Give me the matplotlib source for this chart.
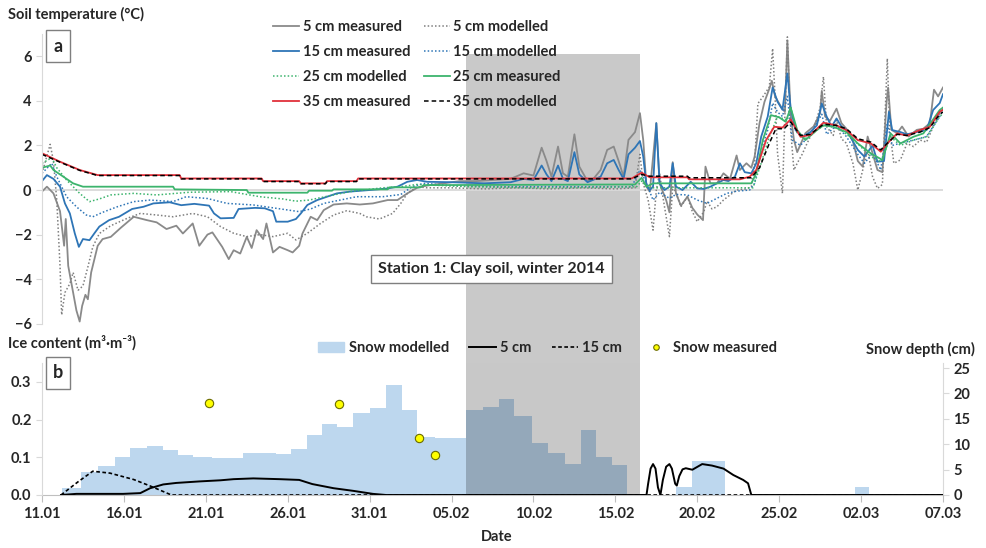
import matplotlib.pyplot as plt
from matplotlib.lines import Line2D
from matplotlib.patches import Patch
import numpy as np

plt.rcParams['font.family'] = ['Lato', 'DejaVu Sans']
plt.rcParams['font.weight'] = 'bold'
plt.rcParams['font.size'] = 10
plt.rcParams['text.color'] = '#262626'

# time axis: days since 11.01.2014
date_labels = ['11.01', '16.01', '21.01', '26.01', '31.01', '05.02',
               '10.02', '15.02', '20.02', '25.02', '02.03', '07.03']
shade_period = (25.9, 36.5)   # grey highlighted period
shade_top = 6.1

# --- soil temperature (deg C) ---
d_5meas = [0.0, 0.3, 0.7, 1.1, 1.35, 1.45, 1.6, 1.9, 2.1, 2.3, 2.45, 2.65, 2.8, 3.0, 3.4, 3.7, 4.2,
           4.8, 5.6, 6.4, 7.0, 7.6, 8.2, 8.6, 9.2, 9.6, 10.1, 10.4, 11.0, 11.4, 11.7, 12.1, 12.5,
           12.8, 13.1, 13.5, 13.7, 14.1, 14.5, 15.0, 15.3, 15.7, 15.9, 16.4, 16.8, 17.2, 17.8,
           18.6, 19.4, 20.2, 21.1, 21.7, 22.3, 22.9, 23.5, 24.5, 25.5, 26.5, 27.5, 28.6, 29.4,
           30.0, 30.5, 30.8, 31.1, 31.5, 31.8, 32.1, 32.5, 32.8, 33.3, 33.6, 34.1, 34.5, 34.9,
           35.2, 35.5, 35.8, 36.2, 36.5, 36.7, 36.9, 37.1, 37.5, 37.7, 38.1, 38.3, 38.5, 38.7,
           39.0, 39.4, 39.7, 40.0, 40.35, 40.5, 40.8, 41.2, 41.6, 42.0, 42.4, 42.6, 43.0, 43.3,
           43.5, 43.8, 44.1, 44.4, 44.55, 44.75, 45.1, 45.35, 45.5, 45.7, 45.9, 46.1, 46.6, 47.1,
           47.5, 47.6, 47.8, 48.1, 48.5, 48.8, 49.1, 49.5, 49.8, 50.1, 50.4, 50.6, 51.0, 51.3,
           51.55, 51.65, 51.85, 52.2, 52.5, 52.9, 53.4, 53.8, 54.2, 54.45, 54.7, 55.0]
t_5meas = [-0.07, 0.15, -0.15, -0.95, -2.5, -1.3, -3.4, -4.6, -5.4, -5.9, -5.2, -4.7, -4.9, -3.7,
           -2.5, -2.2, -2.1, -1.7, -1.2, -1.35, -1.45, -1.75, -1.6, -1.95, -1.5, -2.5, -2.0, -1.9,
           -2.55, -3.1, -2.7, -2.85, -2.1, -2.6, -1.8, -2.2, -1.5, -2.8, -2.55, -2.7, -2.8, -2.5,
           -1.95, -1.2, -1.35, -0.9, -0.65, -0.6, -0.65, -0.6, -0.45, -0.45, -0.15, 0.1, 0.2, 0.3,
           0.4, 0.4, 0.45, 0.5, 0.75, 0.65, 1.9, 1.3, 0.6, 1.95, 0.75, 0.6, 2.5, 1.05, 0.4, 0.45,
           0.9, 1.8, 1.95, 1.3, 0.6, 2.25, 2.6, 3.45, 2.25, 0.15, -0.07, 3.0, 0.3, -0.45, -1.0,
           1.25, -0.15, -0.7, -0.3, -0.8, -1.1, -1.35, 1.05, 0.3, 0.3, 0.75, 0.5, 1.55, 0.9, 1.2,
           1.0, 1.5, 3.0, 3.95, 4.55, 4.9, 4.2, 3.75, 3.5, 6.7, 3.4, 2.25, 1.7, 2.55, 2.85, 3.45,
           4.45, 3.3, 3.1, 3.65, 3.0, 2.75, 2.2, 1.3, 1.05, 2.4, 1.9, 0.9, 0.8, 3.9, 4.6, 2.7,
           2.55, 2.85, 2.4, 2.7, 2.75, 3.0, 4.5, 4.2, 4.6]

d_5mod = [0.0, 0.5, 0.7, 0.9, 1.1, 1.2, 1.4, 1.7, 1.9, 2.2, 2.5, 2.8, 3.1, 3.5, 4.2, 5.2, 6.0, 7.0,
          8.0, 9.2, 10.1, 10.9, 11.7, 12.5, 13.3, 14.1, 15.0, 15.5, 16.2, 17.0, 17.8, 18.6, 19.4,
          19.8, 20.6, 21.4, 21.9, 22.3, 22.9, 23.5, 25.0, 27.0, 29.0, 31.0, 33.0, 35.0, 36.2,
          36.5, 36.7, 37.0, 37.3, 37.5, 37.7, 37.9, 38.3, 38.5, 38.7, 39.0, 39.4, 39.7, 40.0,
          40.4, 40.6, 40.9, 41.2, 41.6, 42.0, 42.4, 43.0, 43.3, 43.5, 43.7, 44.0, 44.4, 44.6,
          44.75, 44.9, 45.2, 45.5, 45.7, 45.9, 46.1, 46.4, 46.7, 47.1, 47.5, 47.7, 47.9, 48.3,
          48.5, 48.8, 49.1, 49.5, 49.8, 50.1, 50.4, 50.7, 51.0, 51.3, 51.6, 51.75, 52.0, 52.4,
          52.8, 53.2, 53.6, 54.0, 54.4, 55.0]
t_5mod = [0.75, 2.05, 1.3, -0.45, -3.4, -5.6, -4.6, -4.2, -3.7, -4.5, -4.3, -3.45, -2.55, -1.95,
          -1.6, -1.27, -1.05, -1.12, -1.2, -1.05, -1.2, -1.64, -1.94, -2.09, -2.0, -2.09, -1.94,
          -2.24, -1.94, -1.5, -1.12, -0.93, -1.05, -1.2, -1.3, -1.05, -0.6, -0.15, 0.15, 0.1, 0.1,
          0.05, 0.1, 0.05, 0.1, 0.05, 0.1, 1.6, 0.3, -0.45, -1.8, 0.0, 0.75, -0.3, -2.09, 0.15,
          -0.1, -0.75, -0.3, -0.97, -1.42, -0.97, -0.5, -0.85, -0.75, -0.45, -0.22, 0.0, 0.05,
          0.15, 1.2, 3.88, 4.18, 4.63, 6.35, 4.18, 1.64, -0.15, 6.87, 2.69, 0.9, 1.2, 1.6, 2.09,
          2.7, 3.7, 5.08, 2.84, 2.45, 3.14, 2.3, 2.1, 1.2, 0.0, 0.9, 1.8, 0.6, 0.07, 0.25, 5.9,
          2.69, 1.2, 1.35, 2.09, 1.95, 2.24, 2.15, 2.84, 3.7]

d_15meas = [0.0, 0.3, 0.7, 1.1, 1.4, 1.7, 2.0, 2.25, 2.5, 2.9, 3.2, 3.5, 4.1, 4.7, 5.5, 6.2, 6.8,
            7.8, 8.5, 9.3, 10.2, 10.5, 10.9, 11.7, 12.0, 13.0, 13.6, 14.1, 14.3, 15.0, 15.5, 15.8,
            16.2, 16.8, 17.4, 18.0, 18.8, 20.0, 21.1, 21.7, 22.3, 22.9, 23.5, 25.0, 27.0, 28.6,
            29.4, 30.0, 30.5, 30.8, 31.1, 31.5, 31.8, 32.1, 32.5, 32.8, 33.3, 34.1, 34.5, 34.9,
            35.2, 35.5, 35.8, 36.2, 36.5, 36.7, 36.9, 37.1, 37.3, 37.5, 37.7, 38.0, 38.3, 38.5,
            38.7, 39.1, 39.6, 40.0, 40.4, 40.8, 41.2, 41.6, 41.9, 42.3, 42.6, 42.9, 43.3, 43.6,
            43.9, 44.3, 44.6, 44.9, 45.2, 45.5, 45.7, 46.0, 46.4, 46.9, 47.3, 47.6, 47.9, 48.2,
            48.5, 48.8, 49.1, 49.8, 50.2, 50.7, 51.0, 51.4, 51.7, 51.9, 52.4, 52.8, 53.4, 54.0,
            54.4, 54.8, 55.0]
t_15meas = [0.4, 0.67, 0.5, 0.15, -0.6, -1.05, -1.94, -2.55, -2.2, -2.25, -1.94, -1.64, -1.35,
            -1.2, -0.85, -0.75, -0.6, -0.55, -0.68, -0.62, -0.7, -1.05, -1.27, -1.25, -0.85, -0.8,
            -0.82, -0.95, -1.42, -1.42, -1.3, -1.05, -0.67, -0.45, -0.3, -0.15, -0.07, 0.0, 0.07,
            0.15, 0.37, 0.45, 0.37, 0.35, 0.3, 0.35, 0.5, 0.45, 1.1, 0.7, 0.4, 1.1, 0.5, 0.4, 1.7,
            0.7, 0.35, 0.6, 1.2, 1.35, 0.9, 0.5, 1.6, 1.9, 2.2, 1.5, 0.2, 0.0, 0.15, 3.0, 0.3, 0.0,
            0.15, 1.2, 0.15, 0.0, 0.37, 0.07, 0.05, 0.15, 0.3, 0.45, 0.4, 0.6, 1.2, 0.8, 0.75, 1.2,
            2.39, 3.29, 4.6, 3.96, 3.6, 5.23, 3.66, 2.69, 2.39, 2.6, 2.9, 3.88, 3.29, 2.84, 3.21,
            2.85, 2.7, 1.8, 1.5, 2.0, 1.27, 1.3, 3.51, 2.69, 2.6, 2.5, 2.6, 2.69, 3.59, 3.9, 4.3]

d_15mod = [0.0, 0.6, 0.9, 1.5, 2.1, 2.7, 3.1, 3.7, 4.6, 5.6, 6.6, 8.0, 8.8, 10.1, 11.3, 12.9, 14.3,
           15.7, 16.4, 17.2, 18.2, 19.2, 20.8, 21.9, 22.6, 23.3, 25.0, 28.0, 31.0, 34.0, 36.0,
           36.5, 36.9, 37.3, 37.7, 38.3, 38.7, 39.4, 40.0, 40.6, 41.2, 41.8, 42.4, 43.2, 43.5,
           43.9, 44.3, 44.6, 44.9, 45.2, 45.5, 45.8, 46.3, 46.9, 47.6, 47.9, 48.5, 49.1, 49.8,
           50.2, 50.7, 51.2, 51.6, 51.9, 52.4, 53.2, 54.0, 54.8, 55.0]
t_15mod = [0.75, 1.2, 0.6, -0.3, -0.75, -1.12, -1.2, -1.0, -0.75, -0.52, -0.45, -0.52, -0.3, -0.38,
           -0.6, -0.67, -0.82, -0.97, -0.85, -0.6, -0.45, -0.3, -0.3, -0.2, 0.15, 0.3, 0.2, 0.15,
           0.15, 0.15, 0.15, 0.9, 0.3, -0.45, -0.1, -0.37, -0.2, -0.22, -0.45, -0.6, -0.37, -0.15,
           -0.05, 0.0, 0.3, 1.8, 2.69, 3.9, 3.5, 3.3, 4.2, 2.24, 2.0, 2.5, 3.4, 2.5, 2.9, 2.4, 1.6,
           1.2, 1.65, 0.9, 3.0, 2.0, 2.1, 2.24, 2.4, 3.3, 3.6]

d_25meas = [0.0, 0.5, 0.7, 1.3, 1.9, 2.5, 8.0, 8.1, 12.5, 12.6, 16.2, 16.3, 17.7, 17.8, 21.1, 21.2,
            23.1, 23.3, 36.2, 36.6, 36.9, 37.3, 43.3, 43.6, 44.0, 44.5, 45.0, 45.4, 45.7, 46.1,
            46.6, 47.3, 47.7, 48.3, 49.1, 49.8, 50.6, 51.3, 51.8, 52.4, 53.2, 53.8, 54.8, 55.0]
t_25meas = [1.0, 1.1, 0.9, 0.6, 0.3, 0.15, 0.15, 0.03, 0.0, -0.12, -0.12, -0.03, -0.03, 0.03, 0.03,
            0.12, 0.12, 0.22, 0.25, 0.55, 0.15, 0.3, 0.3, 0.75, 2.24, 3.36, 3.26, 3.06, 3.7, 2.69,
            2.24, 2.69, 2.9, 2.84, 2.6, 2.09, 1.64, 1.35, 2.54, 2.09, 2.39, 2.54, 3.59, 3.7]

d_25mod = [0.0, 0.6, 0.9, 1.5, 2.3, 2.9, 3.5, 4.2, 5.6, 7.0, 9.0, 11.5, 13.3, 14.7, 15.5, 16.3,
           17.8, 18.8, 20.8, 21.9, 22.9, 26.0, 30.0, 34.0, 36.3, 36.6, 37.0, 43.4, 43.9, 44.4,
           44.9, 45.5, 45.7, 46.1, 46.7, 47.3, 47.9, 48.5, 49.3, 49.9, 50.6, 51.2, 51.8, 52.4,
           53.2, 54.0, 54.8, 55.0]
t_25mod = [1.2, 1.45, 1.0, 0.45, -0.15, -0.52, -0.4, -0.22, -0.15, -0.22, -0.1, -0.07, -0.3, -0.4,
           -0.5, -0.45, -0.22, -0.07, 0.1, 0.15, 0.25, 0.15, 0.1, 0.12, 0.15, 0.4, 0.1, 0.1, 1.2,
           2.39, 3.29, 3.14, 3.7, 2.54, 2.3, 2.69, 2.99, 2.84, 2.39, 2.0, 1.5, 1.27, 2.39, 2.0,
           2.24, 2.39, 3.29, 3.45]

d_35meas = [0.0, 1.1, 2.3, 3.4, 8.4, 8.5, 13.4, 13.5, 15.7, 15.8, 17.3, 17.4, 19.2, 19.3, 36.0,
            36.6, 37.1, 39.4, 39.5, 42.6, 43.2, 43.6, 44.2, 44.7, 45.2, 45.7, 46.3, 46.9, 47.7,
            48.5, 49.1, 49.8, 50.6, 51.2, 51.6, 52.2, 52.8, 53.6, 54.2, 54.8, 55.0]
t_35meas = [1.65, 1.27, 0.9, 0.67, 0.67, 0.52, 0.52, 0.4, 0.4, 0.3, 0.3, 0.4, 0.4, 0.52, 0.52,
            0.78, 0.57, 0.57, 0.48, 0.48, 0.6, 0.9, 2.24, 2.84, 2.8, 3.17, 2.39, 2.47, 3.02, 2.9,
            2.69, 2.24, 2.09, 1.72, 2.09, 2.54, 2.44, 2.69, 2.84, 3.51, 3.6]

d_35mod = [0.0, 1.1, 2.3, 3.4, 8.4, 8.5, 13.4, 13.5, 15.7, 15.8, 17.3, 17.4, 19.2, 19.3, 36.0,
           36.6, 37.1, 39.4, 39.5, 42.6, 43.3, 43.8, 44.4, 44.8, 45.3, 45.7, 46.3, 46.9, 47.7,
           48.5, 49.1, 49.8, 50.6, 51.2, 51.6, 52.2, 52.8, 53.6, 54.2, 54.8, 55.0]
t_35mod = [1.6, 1.25, 0.88, 0.65, 0.65, 0.5, 0.5, 0.38, 0.38, 0.28, 0.28, 0.38, 0.38, 0.5, 0.5,
           0.7, 0.62, 0.62, 0.55, 0.55, 0.55, 1.0, 2.1, 2.75, 2.75, 3.05, 2.45, 2.5, 2.95, 2.9,
           2.75, 2.3, 2.15, 1.8, 2.1, 2.5, 2.45, 2.6, 2.8, 3.4, 3.5]

# --- ice content (m3/m3) ---
d_ice5 = [1.16, 2.1, 4.95, 6.0, 6.6, 7.4, 8.2, 9.6, 10.9, 11.7, 12.9, 14.5, 15.7, 16.5, 17.8, 19.0,
          20.2, 21.0, 36.9, 37.0, 37.15, 37.3, 37.45, 37.6, 37.75, 37.9, 38.1, 38.3, 38.45, 38.65,
          38.75, 38.9, 39.1, 39.3, 39.7, 40.3, 40.9, 41.6, 42.2, 42.8, 43.1, 43.3, 55.0]
ice5 = [0.0, 0.003, 0.003, 0.005, 0.018, 0.028, 0.032, 0.036, 0.039, 0.042, 0.044, 0.042, 0.040,
        0.029, 0.018, 0.011, 0.003, 0.0, 0.0, 0.03, 0.07, 0.082, 0.07, 0.02, 0.0, 0.04, 0.075,
        0.082, 0.07, 0.03, 0.025, 0.05, 0.068, 0.071, 0.067, 0.082, 0.078, 0.070, 0.053, 0.040,
        0.031, 0.0, 0.0]
d_ice15 = [1.16, 2.2, 3.1, 4.15, 5.6, 6.6, 7.9, 55.0]
ice15 = [0.0, 0.035, 0.063, 0.058, 0.041, 0.024, 0.0, 0.0]

# --- snow (cm) ---
snow_start = [1.2, 2.4, 3.4, 4.45, 5.4, 6.4, 7.4, 8.3, 9.2, 10.4, 11.3, 12.3, 13.3, 14.3, 15.2,
              16.2, 17.1, 18.0, 19.0, 20.0, 21.0, 22.0, 22.9, 24.0, 24.9, 25.9, 26.9, 27.9, 28.8,
              29.9, 30.9, 31.9, 32.9, 33.8, 34.8, 35.7, 38.7, 39.7, 40.7, 41.7, 49.6, 50.5]
snow_model = [1.4, 4.6, 5.8, 7.5, 9.2, 9.7, 8.9, 7.9, 7.5, 7.3, 7.3, 8.2, 8.2, 8.0, 9.0, 11.8, 14.0,
              13.3, 16.1, 17.2, 21.7, 16.7, 11.5, 11.2, 11.2, 16.7, 17.3, 18.9, 15.6, 10.2, 8.2,
              6.1, 12.8, 7.5, 5.9, 0.0, 1.6, 6.7, 6.7, 0.0, 1.6, 0.0]
snow_meas_day = [10.2, 18.1, 23.0, 24.0]
snow_meas = [18.2, 17.9, 11.2, 7.9]

c_grey = '#8A8A8A'
c_blue = '#2E75B6'
c_green = '#3DB46D'
c_red = '#E0303A'
dots = (0, (1, 1.4))
spine_c = '#D9D9D9'

W, H = 986, 548
fig = plt.figure(figsize=(W / 100, H / 100), dpi=100)

x0, x1 = 42 / W, 943 / W
ax = fig.add_axes([x0, 1 - 363 / H, x1 - x0, (363 - 34) / H])
ax.set_xlim(0, 55)
ax.set_ylim(-7.76, 7)
ax.fill_between(shade_period, -7.76, shade_top, color='#C9C9C9', lw=0, zorder=0.5)
ax.axhline(0, color='#D9D9D9', lw=1.3, zorder=0.8)

lw = 1.3
ax.plot(d_5meas, t_5meas, color=c_grey, lw=lw, label='5 cm measured')
ax.plot(d_5mod, t_5mod, color='#7F7F7F', lw=1.1, ls=dots, label='5 cm modelled')
ax.plot(d_15meas, t_15meas, color=c_blue, lw=lw, label='15 cm measured')
ax.plot(d_15mod, t_15mod, color=c_blue, lw=1.1, ls=dots, label='15 cm modelled')
ax.plot(d_25mod, t_25mod, color=c_green, lw=1.1, ls=dots, label='25 cm modelled')
ax.plot(d_25meas, t_25meas, color=c_green, lw=lw, label='25 cm measured')
ax.plot(d_35meas, t_35meas, color=c_red, lw=lw, label='35 cm measured')
ax.plot(d_35mod, t_35mod, color='black', lw=1.1, ls=(0, (3, 2)), label='35 cm modelled')

for s in ['top', 'right', 'bottom']:
    ax.spines[s].set_visible(False)
ax.spines['left'].set_color(spine_c)
ax.spines['left'].set_bounds(-6, 7)
ax.set_xticks([])
ax.set_yticks([-6, -4, -2, 0, 2, 4, 6])
ax.tick_params(axis='y', colors=spine_c, labelcolor='#262626', labelsize=10.5, length=4)

h, l = ax.get_legend_handles_labels()
order = [0, 2, 4, 6, 1, 3, 5, 7]
fig.legend([h[i] for i in order], [l[i] for i in order], ncol=2, loc='upper left',
           bbox_to_anchor=(273 / W, 1 - 20 / H), frameon=False, handlelength=1.8,
           handletextpad=0.25, columnspacing=0.9, labelspacing=0.75, borderpad=0,
           borderaxespad=0, prop={'weight': 'bold', 'size': 10.5})

fig.text(491 / W, 1 - 269 / H, 'Station 1: Clay soil, winter 2014', fontsize=11.5,
         ha='center', va='center', zorder=5,
         bbox=dict(boxstyle='square,pad=0.45', fc='white', ec='#7F7F7F', lw=1))
fig.text(58 / W, 1 - 46 / H, 'a', fontsize=13, ha='center', va='center',
         bbox=dict(boxstyle='square,pad=0.4', fc='white', ec='#7F7F7F', lw=1))

# ---- panel b ----
axs = fig.add_axes([x0, 1 - 495 / H, x1 - x0, 132 / H])
axs.set_facecolor('white')
axs.fill_between(snow_start, snow_model, step='post', color='#BDD7EE', lw=0, zorder=1)
axs.axvspan(*shade_period, color='black', alpha=0.215, lw=0, zorder=2)
axs.plot(snow_meas_day, snow_meas, 'o', ms=6, mfc='#FFFF00', mec='#6B6B00', mew=0.8, zorder=3,
         label='Snow measured')
axs.set_xlim(0, 55)
axs.set_ylim(0, 26)
axi = axs.twinx()
axs.yaxis.tick_right()
axi.yaxis.tick_left()
axi.plot(d_ice5, ice5, color='black', lw=1.4)
axi.plot(d_ice15, ice15, color='black', lw=1.2, ls=(0, (2.2, 1.5)))
axi.set_ylim(0, 0.35)
axi.set_yticks([0.0, 0.1, 0.2, 0.3])
axi.set_yticklabels(['0.0', '0.1', '0.2', '0.3'])
axs.set_yticks([0, 5, 10, 15, 20, 25])
axs.set_xticks(np.arange(0, 56, 5))
axs.set_xticklabels(date_labels)

for a in (axs, axi):
    a.spines['top'].set_visible(False)
axs.spines['left'].set_visible(False)
axs.spines['right'].set_color(spine_c)
axs.spines['bottom'].set_color('#BFBFBF')
axi.spines['right'].set_visible(False)
axi.spines['bottom'].set_visible(False)
axi.spines['left'].set_color(spine_c)
axs.tick_params(axis='y', colors=spine_c, labelcolor='#262626', labelsize=10.5, length=4)
axi.tick_params(axis='y', colors=spine_c, labelcolor='#262626', labelsize=10.5, length=4)
axs.tick_params(axis='x', colors='#BFBFBF', labelcolor='#262626', labelsize=10.5, length=5)

leg_b = [Patch(color='#BDD7EE', label='Snow modelled'),
         Line2D([], [], color='black', lw=1.4, label='5 cm'),
         Line2D([], [], color='black', lw=1.2, ls=(0, (2.2, 1.5)), label='15 cm'),
         Line2D([], [], ls='none', marker='o', ms=4, mfc='#FFFF00', mec='#6B6B00', mew=0.8,
                label='Snow measured')]
fig.legend(handles=leg_b, ncol=4, loc='center left', bbox_to_anchor=(318 / W, 1 - 348 / H),
           frameon=False, handlelength=1.8, handletextpad=0.3, columnspacing=1.4,
           borderpad=0, borderaxespad=0, prop={'weight': 'bold', 'size': 10.5})

fig.text(58 / W, 1 - 373 / H, 'b', fontsize=13, ha='center', va='center',
         bbox=dict(boxstyle='square,pad=0.4', fc='white', ec='#7F7F7F', lw=1))
fig.text(8 / W, 1 - 14 / H, 'Soil temperature (°C)', fontsize=10.5, ha='left', va='center')
fig.text(8 / W, 1 - 343 / H, 'Ice content (m³·m⁻³)', fontsize=10.5, ha='left', va='center')
fig.text(975 / W, 1 - 349 / H, 'Snow depth (cm)', fontsize=10.5, ha='right', va='center')
fig.text(497 / W, 1 - 537 / H, 'Date', fontsize=10.5, ha='center', va='center')

fig.savefig('out.png', dpi=100)
